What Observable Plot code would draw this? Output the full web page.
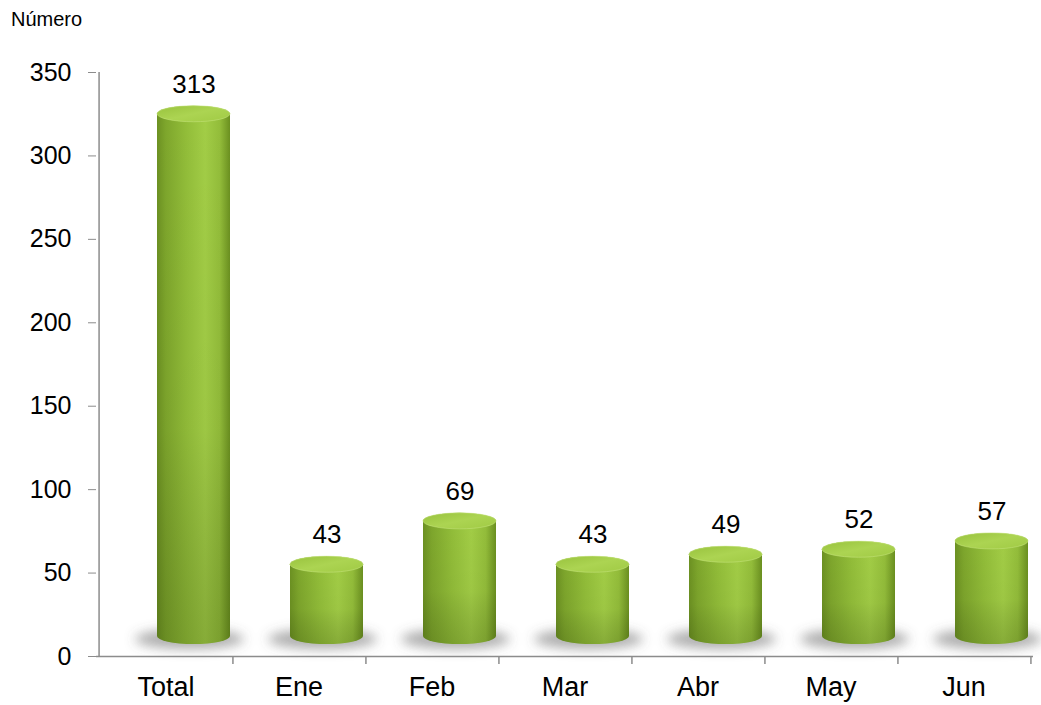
<!DOCTYPE html>
<html>
<head>
<meta charset="utf-8">
<script src="https://cdn.jsdelivr.net/npm/d3@7"></script>
<script src="https://cdn.jsdelivr.net/npm/@observablehq/plot@0.6"></script>
<style>
  html, body { margin: 0; padding: 0; background: #fff; }
  #wrap { position: relative; width: 1041px; height: 705px; font-family: "Liberation Sans", Arial, sans-serif; }
  #ylabel { position: absolute; left: 11px; top: 8px; font-size: 20px; color: #000; }
  #chart { position: absolute; left: 0; top: 0; }
</style>
</head>
<body>
<div id="wrap">
  <div id="chart"></div>
  <div id="ylabel">Número</div>
</div>
<script>
const categories = ["Total", "Ene", "Feb", "Mar", "Abr", "May", "Jun"];
const values = [313, 43, 69, 43, 49, 52, 57];
const yTicks = [0, 50, 100, 150, 200, 250, 300, 350];

const data = categories.map((c, i) => ({cat: c, value: values[i]}));

const W = 1041, H = 705, mL = 96, mR = 8, mT = 72, mB = 49;
const bw = (W - mL - mR) / categories.length;
const pxPerUnit = (H - mT - mB) / 350;
const depthY = -20;            // 3D depth offset (px)
const inL = 58, inR = 2;       // bar insets within the band
const barW = bw - inL - inR;
const ry = 8;
const barCenterDx = (inL + barW / 2) - bw / 2;

const plot = Plot.plot({
  width: W, height: H,
  marginLeft: mL, marginRight: mR, marginTop: mT, marginBottom: mB,
  style: {fontFamily: '"Liberation Sans", Arial, sans-serif', background: "#fff"},
  x: {domain: categories, padding: 0, label: null},
  y: {domain: [0, 350], label: null},
  marks: [
    // shadow
    Plot.barY(data, {x: "cat", y1: 0, y2: 0, insetLeft: inL - 22, insetRight: inR - 14,
      insetTop: -10, insetBottom: -10, rx: (barW + 36) / 2, ry: 10, dy: depthY + 3,
      fill: "#5a5a5a", fillOpacity: 0.5}),
    // cylinder body
    Plot.barY(data, {x: "cat", y1: 0, y2: "value", insetLeft: inL, insetRight: inR,
      insetTop: -ry, insetBottom: -ry, rx: barW / 2, ry, dy: depthY, fill: "url(#cylBody)"}),
    // vertical shading overlay
    Plot.barY(data, {x: "cat", y1: 0, y2: "value", insetLeft: inL, insetRight: inR,
      insetTop: -ry, insetBottom: -ry, rx: barW / 2, ry, dy: depthY, fill: "url(#cylShade)"}),
    // top cap
    Plot.barY(data, {x: "cat", y1: "value", y2: "value", insetLeft: inL, insetRight: inR,
      insetTop: -ry, insetBottom: -ry, rx: barW / 2, ry, dy: depthY, fill: "url(#cylTop)",
      stroke: "#c4e27a", strokeWidth: 0.8, strokeOpacity: 0.7}),
    // y axis line
    Plot.ruleX([categories[0]], {y1: 0, y2: 350, dx: -bw / 2, stroke: "#8c8c8c", strokeWidth: 1.5}),
    // x axis line
    Plot.ruleY([0], {stroke: "#8c8c8c", strokeWidth: 1.5}),
    // category boundary ticks
    Plot.ruleX(categories, {y1: 0, y2: -8 / pxPerUnit, dx: bw / 2, stroke: "#8c8c8c", strokeWidth: 1.5}),
    Plot.axisY({ticks: yTicks, tickSize: 8, tickPadding: 17, stroke: "#8c8c8c", fill: "#000",
      fontSize: 25, label: null, tickFormat: d => String(d)}),
    Plot.axisX({tickSize: 0, tickPadding: 20, fill: "#000", fontSize: 27, label: null}),
    // value labels
    Plot.text(data, {x: "cat", y: "value", text: d => String(d.value), dx: barCenterDx, dy: -50,
      fontSize: 26, fill: "#000", lineAnchor: "middle"})
  ]
});

document.getElementById("chart").appendChild(plot);

const svg = d3.select(plot);
const defs = svg.insert("defs", ":first-child");
const gb = defs.append("linearGradient").attr("id", "cylBody").attr("x1", 0).attr("x2", 1).attr("y1", 0).attr("y2", 0);
[[0, "#6c9122"], [0.12, "#7ea62c"], [0.4, "#92bd39"], [0.66, "#a2cd46"], [0.86, "#93bd3a"], [1, "#6b9020"]]
  .forEach(([o, c]) => gb.append("stop").attr("offset", o).attr("stop-color", c));
const gs = defs.append("linearGradient").attr("id", "cylShade").attr("x1", 0).attr("x2", 0).attr("y1", 0).attr("y2", 1);
[[0, "#000", 0], [0.6, "#000", 0.03], [1, "#1a2a00", 0.2]]
  .forEach(([o, c, a]) => gs.append("stop").attr("offset", o).attr("stop-color", c).attr("stop-opacity", a));
const gt = defs.append("linearGradient").attr("id", "cylTop").attr("x1", 0).attr("x2", 1).attr("y1", 0).attr("y2", 1);
[[0, "#98c23d"], [0.5, "#acd452"], [1, "#a0ca44"]]
  .forEach(([o, c]) => gt.append("stop").attr("offset", o).attr("stop-color", c));
const flt = defs.append("filter").attr("id", "shadowBlur").attr("x", "-30%").attr("y", "-150%").attr("width", "160%").attr("height", "400%");
flt.append("feGaussianBlur").attr("stdDeviation", 6);

const barGroups = plot.querySelectorAll('g[aria-label="bar"]');
if (barGroups.length) barGroups[0].setAttribute("filter", "url(#shadowBlur)");
</script>
</body>
</html>
